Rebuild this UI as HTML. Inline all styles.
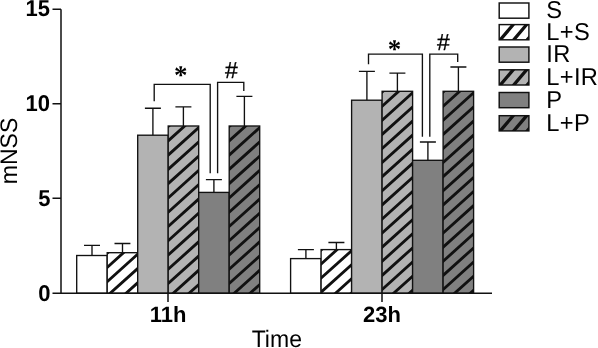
<!DOCTYPE html>
<html><head><meta charset="utf-8"><title>mNSS</title>
<style>
html,body{margin:0;padding:0;background:#fff;}
svg{display:block}
text{font-family:"Liberation Sans",Arial,sans-serif;fill:#000;text-rendering:geometricPrecision}
.b{font-weight:bold;font-size:22px}
.r{font-size:23px}
.l{font-size:23.7px;letter-spacing:0.3px}
.k{stroke:#111;fill:none}
</style></head><body>
<svg width="598" height="348" viewBox="0 0 598 348">
<rect width="598" height="348" fill="#fff"/>

<path d="M92.0,255.5 V245.3 M84.0,245.3 H100.0" class="k" stroke-width="1.35"/>
<rect x="76.7" y="255.5" width="30.5" height="37.8" fill="#fff"/>
<rect x="76.7" y="255.5" width="30.5" height="37.8" class="k" stroke-width="1.35"/>
<path d="M122.5,252.7 V243.5 M114.5,243.5 H130.4" class="k" stroke-width="1.35"/>
<rect x="107.2" y="252.7" width="30.5" height="40.6" fill="#fff"/>
<clipPath id="c1"><rect x="107.2" y="252.7" width="30.5" height="40.6"/></clipPath>
<path clip-path="url(#c1)" d="M103.2,256.7 L141.7,222.1 M103.2,271.0 L141.7,236.3 M103.2,285.3 L141.7,250.6 M103.2,299.5 L141.7,264.9 M103.2,313.8 L141.7,279.2" class="k" stroke-width="2.85"/>
<rect x="107.2" y="252.7" width="30.5" height="40.6" class="k" stroke-width="1.35"/>
<path d="M152.9,135.2 V108.2 M144.9,108.2 H160.9" class="k" stroke-width="1.35"/>
<rect x="137.7" y="135.2" width="30.5" height="158.1" fill="#b3b3b3"/>
<rect x="137.7" y="135.2" width="30.5" height="158.1" class="k" stroke-width="1.35"/>
<path d="M183.4,126.0 V106.9 M175.4,106.9 H191.4" class="k" stroke-width="1.35"/>
<rect x="168.2" y="126.0" width="30.5" height="167.3" fill="#b3b3b3"/>
<clipPath id="c2"><rect x="168.2" y="126.0" width="30.5" height="167.3"/></clipPath>
<path clip-path="url(#c2)" d="M164.2,130.1 L202.7,95.5 M164.2,144.4 L202.7,109.8 M164.2,158.7 L202.7,124.0 M164.2,172.9 L202.7,138.3 M164.2,187.2 L202.7,152.6 M164.2,201.5 L202.7,166.8 M164.2,215.8 L202.7,181.1 M164.2,230.0 L202.7,195.4 M164.2,244.3 L202.7,209.6 M164.2,258.6 L202.7,223.9 M164.2,272.8 L202.7,238.2 M164.2,287.1 L202.7,252.4 M164.2,301.4 L202.7,266.7 M164.2,315.6 L202.7,281.0" class="k" stroke-width="2.85"/>
<rect x="168.2" y="126.0" width="30.5" height="167.3" class="k" stroke-width="1.35"/>
<path d="M213.9,192.4 V179.6 M205.9,179.6 H221.9" class="k" stroke-width="1.35"/>
<rect x="198.7" y="192.4" width="30.5" height="100.9" fill="#808080"/>
<rect x="198.7" y="192.4" width="30.5" height="100.9" class="k" stroke-width="1.35"/>
<path d="M244.4,126.0 V96.4 M236.4,96.4 H252.4" class="k" stroke-width="1.35"/>
<rect x="229.2" y="126.0" width="30.5" height="167.3" fill="#808080"/>
<clipPath id="c3"><rect x="229.2" y="126.0" width="30.5" height="167.3"/></clipPath>
<path clip-path="url(#c3)" d="M225.2,130.1 L263.7,95.5 M225.2,144.4 L263.7,109.8 M225.2,158.7 L263.7,124.0 M225.2,172.9 L263.7,138.3 M225.2,187.2 L263.7,152.6 M225.2,201.5 L263.7,166.8 M225.2,215.8 L263.7,181.1 M225.2,230.0 L263.7,195.4 M225.2,244.3 L263.7,209.6 M225.2,258.6 L263.7,223.9 M225.2,272.8 L263.7,238.2 M225.2,287.1 L263.7,252.4 M225.2,301.4 L263.7,266.7 M225.2,315.6 L263.7,281.0" class="k" stroke-width="2.85"/>
<rect x="229.2" y="126.0" width="30.5" height="167.3" class="k" stroke-width="1.35"/>
<path d="M305.9,258.6 V249.6 M297.9,249.6 H313.9" class="k" stroke-width="1.35"/>
<rect x="290.6" y="258.6" width="30.5" height="34.7" fill="#fff"/>
<rect x="290.6" y="258.6" width="30.5" height="34.7" class="k" stroke-width="1.35"/>
<path d="M336.4,249.6 V242.5 M328.4,242.5 H344.4" class="k" stroke-width="1.35"/>
<rect x="321.1" y="249.6" width="30.5" height="43.7" fill="#fff"/>
<clipPath id="c4"><rect x="321.1" y="249.6" width="30.5" height="43.7"/></clipPath>
<path clip-path="url(#c4)" d="M317.1,253.5 L355.6,218.8 M317.1,267.6 L355.6,232.9 M317.1,281.7 L355.6,247.1 M317.1,295.8 L355.6,261.1 M317.1,309.9 L355.6,275.2 M317.1,324.0 L355.6,289.3" class="k" stroke-width="2.85"/>
<rect x="321.1" y="249.6" width="30.5" height="43.7" class="k" stroke-width="1.35"/>
<path d="M366.9,100.2 V71.3 M358.9,71.3 H374.9" class="k" stroke-width="1.35"/>
<rect x="351.6" y="100.2" width="30.5" height="193.1" fill="#b3b3b3"/>
<rect x="351.6" y="100.2" width="30.5" height="193.1" class="k" stroke-width="1.35"/>
<path d="M397.4,91.3 V73.1 M389.4,73.1 H405.4" class="k" stroke-width="1.35"/>
<rect x="382.1" y="91.3" width="30.5" height="202.0" fill="#b3b3b3"/>
<clipPath id="c5"><rect x="382.1" y="91.3" width="30.5" height="202.0"/></clipPath>
<path clip-path="url(#c5)" d="M378.1,95.7 L416.6,61.1 M378.1,109.8 L416.6,75.2 M378.1,123.9 L416.6,89.2 M378.1,138.0 L416.6,103.4 M378.1,152.1 L416.6,117.5 M378.1,166.2 L416.6,131.5 M378.1,180.3 L416.6,145.6 M378.1,194.4 L416.6,159.8 M378.1,208.5 L416.6,173.8 M378.1,222.6 L416.6,187.9 M378.1,236.7 L416.6,202.0 M378.1,250.8 L416.6,216.1 M378.1,264.9 L416.6,230.2 M378.1,279.0 L416.6,244.3 M378.1,293.1 L416.6,258.4 M378.1,307.2 L416.6,272.6 M378.1,321.3 L416.6,286.6" class="k" stroke-width="2.85"/>
<rect x="382.1" y="91.3" width="30.5" height="202.0" class="k" stroke-width="1.35"/>
<path d="M427.9,160.3 V142.0 M419.9,142.0 H435.9" class="k" stroke-width="1.35"/>
<rect x="412.6" y="160.3" width="30.5" height="133.0" fill="#808080"/>
<rect x="412.6" y="160.3" width="30.5" height="133.0" class="k" stroke-width="1.35"/>
<path d="M458.4,91.3 V67.0 M450.4,67.0 H466.4" class="k" stroke-width="1.35"/>
<rect x="443.1" y="91.3" width="30.5" height="202.0" fill="#808080"/>
<clipPath id="c6"><rect x="443.1" y="91.3" width="30.5" height="202.0"/></clipPath>
<path clip-path="url(#c6)" d="M439.1,95.7 L477.6,61.1 M439.1,109.8 L477.6,75.2 M439.1,123.9 L477.6,89.2 M439.1,138.0 L477.6,103.4 M439.1,152.1 L477.6,117.5 M439.1,166.2 L477.6,131.5 M439.1,180.3 L477.6,145.6 M439.1,194.4 L477.6,159.8 M439.1,208.5 L477.6,173.8 M439.1,222.6 L477.6,187.9 M439.1,236.7 L477.6,202.0 M439.1,250.8 L477.6,216.1 M439.1,264.9 L477.6,230.2 M439.1,279.0 L477.6,244.3 M439.1,293.1 L477.6,258.4 M439.1,307.2 L477.6,272.6 M439.1,321.3 L477.6,286.6" class="k" stroke-width="2.85"/>
<rect x="443.1" y="91.3" width="30.5" height="202.0" class="k" stroke-width="1.35"/>
<path d="M61,9.2 V293.3 M52.5,293.3 H492 M52.5,9.2 H61 M52.5,103.7 H61 M52.5,198.3 H61 M168,293.3 V301.9 M382,293.3 V301.9" class="k" stroke-width="1.5"/>
<text class="b" transform="translate(49.90,16.20) scale(1,1.04)" text-anchor="end">15</text>
<text class="b" transform="translate(49.90,110.70) scale(1,1.04)" text-anchor="end">10</text>
<text class="b" transform="translate(50.40,206.20) scale(1,1.04)" text-anchor="end">5</text>
<text class="b" transform="translate(50.50,301.00) scale(1,1.04)" text-anchor="end">0</text>
<text class="b" transform="translate(168.00,322.00) scale(1,1.01)" text-anchor="middle">11h</text>
<text class="b" transform="translate(382.00,322.00) scale(1,1.01)" text-anchor="middle">23h</text>
<text class="r" transform="translate(276.80,347.40) scale(1,1.04)" text-anchor="middle">Time</text>
<text class="r" transform="translate(17.20,151.00) rotate(-90) scale(1,1.04)" text-anchor="middle">mNSS</text>
<path d="M154.2,101.3 V84.3 H210.2 V173.2 M217.6,173.2 V82.3 H243.8 V91" class="k" stroke-width="1.35"/>
<path d="M368.5,64.3 V54.1 H422.4 V136.8 M429.8,136.8 V54.1 H457.7 V62.1" class="k" stroke-width="1.35"/>
<text x="180.7" y="84.2" text-anchor="middle" style="font-family:'Liberation Serif',serif;font-weight:bold;font-size:27px">*</text>
<text x="231.5" y="78.3" text-anchor="middle" style="font-size:23px;stroke:#000;stroke-width:0.3px">#</text>
<text x="394.6" y="58" text-anchor="middle" style="font-family:'Liberation Serif',serif;font-weight:bold;font-size:27px">*</text>
<text x="443.5" y="49.5" text-anchor="middle" style="font-size:23px;stroke:#000;stroke-width:0.3px">#</text>
<rect x="499.2" y="3.0" width="29.7" height="15.2" fill="#fff"/>
<rect x="499.2" y="3.0" width="29.7" height="15.2" class="k" stroke-width="1.45"/>
<text class="l" transform="translate(546.30,18.05) scale(1,1.03)" text-anchor="start">S</text>
<rect x="499.2" y="24.6" width="29.7" height="15.2" fill="#fff"/>
<clipPath id="c7"><rect x="499.2" y="24.6" width="29.7" height="15.2"/></clipPath>
<path clip-path="url(#c7)" d="M495.2,45.8 L532.9,1.3 M495.2,61.7 L532.9,17.2 M495.2,77.6 L532.9,33.1" class="k" stroke-width="3.3"/>
<rect x="499.2" y="24.6" width="29.7" height="15.2" class="k" stroke-width="1.45"/>
<text class="l" transform="translate(546.30,40.30) scale(1,1.03)" text-anchor="start">L+S</text>
<rect x="499.2" y="47.0" width="29.7" height="15.2" fill="#b3b3b3"/>
<rect x="499.2" y="47.0" width="29.7" height="15.2" class="k" stroke-width="1.45"/>
<text class="l" transform="translate(546.30,62.35) scale(1,1.03)" text-anchor="start">IR</text>
<rect x="499.2" y="69.8" width="29.7" height="15.2" fill="#b3b3b3"/>
<clipPath id="c8"><rect x="499.2" y="69.8" width="29.7" height="15.2"/></clipPath>
<path clip-path="url(#c8)" d="M495.2,91.0 L532.9,46.5 M495.2,106.9 L532.9,62.4 M495.2,122.8 L532.9,78.3" class="k" stroke-width="3.3"/>
<rect x="499.2" y="69.8" width="29.7" height="15.2" class="k" stroke-width="1.45"/>
<text class="l" transform="translate(546.30,84.60) scale(1,1.03)" text-anchor="start">L+IR</text>
<rect x="499.2" y="92.5" width="29.7" height="15.2" fill="#808080"/>
<rect x="499.2" y="92.5" width="29.7" height="15.2" class="k" stroke-width="1.45"/>
<text class="l" transform="translate(546.30,108.20) scale(1,1.03)" text-anchor="start">P</text>
<rect x="499.2" y="115.7" width="29.7" height="15.2" fill="#808080"/>
<clipPath id="c9"><rect x="499.2" y="115.7" width="29.7" height="15.2"/></clipPath>
<path clip-path="url(#c9)" d="M495.2,136.9 L532.9,92.4 M495.2,152.8 L532.9,108.3 M495.2,168.7 L532.9,124.2" class="k" stroke-width="3.3"/>
<rect x="499.2" y="115.7" width="29.7" height="15.2" class="k" stroke-width="1.45"/>
<text class="l" transform="translate(546.30,130.50) scale(1,1.03)" text-anchor="start">L+P</text>
</svg></body></html>
